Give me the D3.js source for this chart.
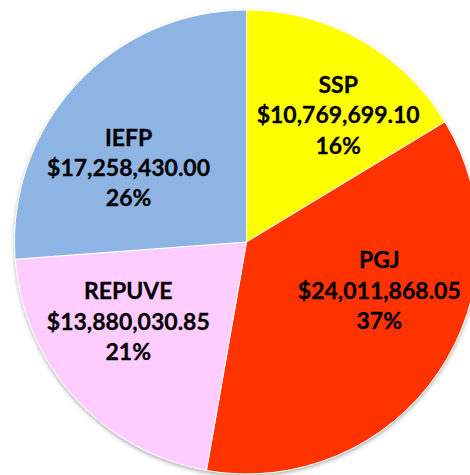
<!DOCTYPE html>
<html>
<head>
  <meta charset="utf-8">
  <script src="https://d3js.org/d3.v7.min.js"></script>
  <style>
    body { margin: 0; background: #fff; }
  </style>
</head>
<body>
  <div id="vis"></div>
<script>
  // slice data, clockwise from 12 o'clock
  var names = ['SSP', 'PGJ', 'REPUVE', 'IEFP'];
  var amounts = [10769699.10, 24011868.05, 13880030.85, 17258430.00];
  var pctLabels = ['16%', '37%', '21%', '26%'];
  var amountLabels = ['$10,769,699.10', '$24,011,868.05', '$13,880,030.85', '$17,258,430.00'];
  var colors = ['#FFFF00', '#FF3300', '#FFCCFF', '#8EB4E3'];

  var width = 470, height = 475;
  var cx = 246.5, cy = 242, radius = 232;

  var svg = d3.select('#vis')
    .append('svg')
    .attr('width', width)
    .attr('height', height);

  var defs = svg.append('defs');
  var shadow = defs.append('filter')
    .attr('id', 'shadow')
    .attr('x', '-10%').attr('y', '-10%')
    .attr('width', '120%').attr('height', '120%');
  shadow.append('feDropShadow')
    .attr('dx', 0).attr('dy', 2)
    .attr('stdDeviation', 2)
    .attr('flood-color', '#000')
    .attr('flood-opacity', 0.35);

  var data = names.map(function (n, i) {
    return { name: n, value: amounts[i], amount: amountLabels[i], pct: pctLabels[i], color: colors[i] };
  });

  var pie = d3.pie()
    .sort(null)
    .value(d => d.value);

  var arcs = pie(data);

  var arc = d3.arc()
    .innerRadius(0)
    .outerRadius(radius);

  var labelArc = d3.arc()
    .innerRadius(150)
    .outerRadius(150);

  var g = svg.append('g')
    .attr('transform', 'translate(' + cx + ',' + cy + ')');

  g.append('circle')
    .attr('r', radius)
    .attr('fill', '#fff')
    .attr('filter', 'url(#shadow)');

  g.selectAll('path')
    .data(arcs)
    .enter()
    .append('path')
    .attr('d', arc)
    .attr('fill', d => d.data.color)
    .attr('stroke', '#fff')
    .attr('stroke-width', 1);

  // nudges mimic the spreadsheet's "best fit" label placement
  var nudge = { SSP: [18, 4], PGJ: [9, -36], REPUVE: [-7, -21], IEFP: [-8, 28] };

  var labels = g.selectAll('text.lbl')
    .data(arcs)
    .enter()
    .append('text')
    .attr('class', 'lbl')
    .attr('text-anchor', 'middle')
    .style('font-family', 'Lato, "Open Sans", sans-serif')
    .style('font-weight', 'bold')
    .style('font-size', '23px')
    .attr('fill', '#000')
    .attr('stroke', '#000')
    .attr('stroke-width', 0.3)
    .attr('transform', d => {
      var c = labelArc.centroid(d);
      var n = nudge[d.data.name];
      return 'translate(' + (c[0] + n[0]) + ',' + (c[1] + n[1]) + ')';
    });

  labels.each(function (d) {
    var t = d3.select(this);
    [d.data.name, d.data.amount, d.data.pct].forEach(function (s, i) {
      t.append('tspan')
        .attr('x', 0)
        .attr('y', (i - 1) * 30.5)
        .attr('dy', '0.35em')
        .text(s);
    });
  });
</script>
</body>
</html>
